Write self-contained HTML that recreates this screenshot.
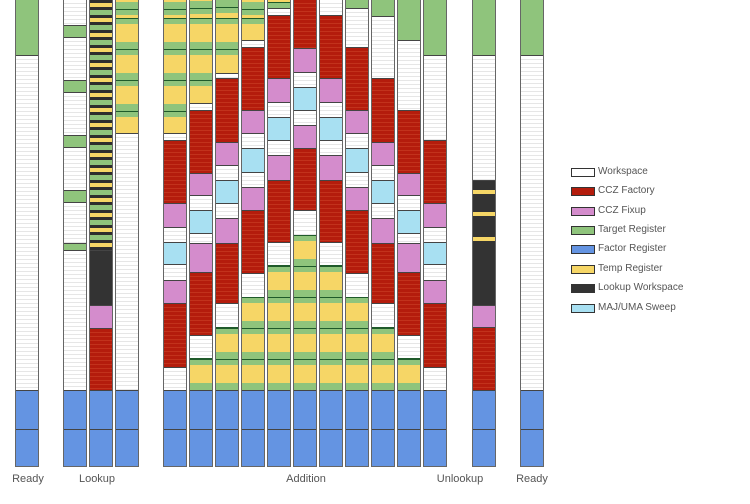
<!DOCTYPE html>
<html><head><meta charset="utf-8"><style>
body{margin:0;width:750px;height:504px;background:#fff;position:relative;overflow:hidden;font-family:"Liberation Sans",sans-serif}
.c{position:absolute;top:0;height:467px;box-sizing:border-box;border:1.5px solid #666;border-top:none;overflow:hidden}
.s{position:absolute;left:0;right:0;box-sizing:border-box;border-top:1px solid #444}
.lbl{position:absolute;top:473px;font-size:11px;color:#555;transform:translateX(-50%)}
.lg{position:absolute;left:571px;width:24px;height:9px;box-sizing:border-box;border:1.5px solid #333}
.lt{position:absolute;left:598px;font-size:10px;color:#555;line-height:12px}
</style></head><body>
<div id="root"></div>
<div class="lbl" style="left:28px">Ready</div>
<div class="lbl" style="left:97px">Lookup</div>
<div class="lbl" style="left:306px">Addition</div>
<div class="lbl" style="left:460px">Unlookup</div>
<div class="lbl" style="left:532px">Ready</div>
<div class="lg" style="top:168px;background:#fff"></div><div class="lt" style="top:166px">Workspace</div>
<div class="lg" style="top:187px;background:#b41c0c"></div><div class="lt" style="top:185px">CCZ Factory</div>
<div class="lg" style="top:207px;background:#d48ccc"></div><div class="lt" style="top:205px">CCZ Fixup</div>
<div class="lg" style="top:226px;background:#8fc47c"></div><div class="lt" style="top:224px">Target Register</div>
<div class="lg" style="top:245px;background:#6494e2"></div><div class="lt" style="top:243px">Factor Register</div>
<div class="lg" style="top:265px;background:#f6d666"></div><div class="lt" style="top:263px">Temp Register</div>
<div class="lg" style="top:284px;background:#333"></div><div class="lt" style="top:282px">Lookup Workspace</div>
<div class="lg" style="top:304px;background:#a8e0f2"></div><div class="lt" style="top:302px">MAJ/UMA Sweep</div>
<script>
var BG={
w:"repeating-linear-gradient(#fff 0 3px,#e6e6e6 3px 4px)",
r:"repeating-linear-gradient(#b41c0c 0 3px,#c2321c 3px 4px)",
p:"#d48ccc",c:"#a8e0f2",g:"#8fc47c",b:"#6494e2",d:"#333",
};
function yg(top){var o=(390-top)%31;return "background:repeating-linear-gradient(#1f5a2a 0 1px,#8fc47c 1px 6px,#f6d666 6px 24px,#8fc47c 24px 31px);background-position:0 "+o+"px";}
var cols=[
[15,[[0,55,'g'],[55,390,'w']]],
[63,[[0,25,'w'],[25,37,'g'],[37,80,'w'],[80,92,'g'],[92,135,'w'],[135,147,'g'],[147,190,'w'],[190,202,'g'],[202,243,'w'],[243,250,'g'],[250,390,'w']]],
[89,[[0,250,'L'],[250,305,'d'],[305,328,'p'],[328,390,'r']]],
[115,[[0,133,'y'],[133,390,'w']]],
[163,[[0,133,'y'],[133,140,'w'],[140,203,'r'],[203,227,'p'],[227,242,'w'],[242,264,'c'],[264,280,'w'],[280,303,'p'],[303,367,'r'],[367,390,'w']]],
[189,[[0,103,'y'],[103,110,'w'],[110,173,'r'],[173,195,'p'],[195,210,'w'],[210,233,'c'],[233,243,'w'],[243,272,'p'],[272,335,'r'],[335,358,'w'],[358,390,'y']]],
[215,[[0,73,'y'],[73,78,'w'],[78,142,'r'],[142,165,'p'],[165,180,'w'],[180,203,'c'],[203,218,'w'],[218,243,'p'],[243,303,'r'],[303,327,'w'],[327,390,'y']]],
[241,[[0,40,'y'],[40,47,'w'],[47,110,'r'],[110,133,'p'],[133,148,'w'],[148,172,'c'],[172,187,'w'],[187,210,'p'],[210,273,'r'],[273,297,'w'],[297,390,'y']]],
[267,[[0,8,'y'],[8,15,'w'],[15,78,'r'],[78,102,'p'],[102,117,'w'],[117,140,'c'],[140,155,'w'],[155,180,'p'],[180,242,'r'],[242,265,'w'],[265,390,'y']]],
[293,[[0,48,'r'],[48,72,'p'],[72,87,'w'],[87,110,'c'],[110,125,'w'],[125,148,'p'],[148,210,'r'],[210,235,'w'],[235,390,'y']]],
[319,[[0,15,'w'],[15,78,'r'],[78,102,'p'],[102,117,'w'],[117,140,'c'],[140,155,'w'],[155,180,'p'],[180,242,'r'],[242,265,'w'],[265,390,'y']]],
[345,[[0,8,'g'],[8,47,'w'],[47,110,'r'],[110,133,'p'],[133,148,'w'],[148,172,'c'],[172,187,'w'],[187,210,'p'],[210,273,'r'],[273,297,'w'],[297,390,'y']]],
[371,[[0,16,'g'],[16,78,'w'],[78,142,'r'],[142,165,'p'],[165,180,'w'],[180,203,'c'],[203,218,'w'],[218,243,'p'],[243,303,'r'],[303,327,'w'],[327,390,'y']]],
[397,[[0,40,'g'],[40,110,'w'],[110,173,'r'],[173,195,'p'],[195,210,'w'],[210,233,'c'],[233,243,'w'],[243,272,'p'],[272,335,'r'],[335,358,'w'],[358,390,'y']]],
[423,[[0,55,'g'],[55,140,'w'],[140,203,'r'],[203,227,'p'],[227,242,'w'],[242,264,'c'],[264,280,'w'],[280,303,'p'],[303,367,'r'],[367,390,'w']]],
[472,[[0,55,'g'],[55,180,'w'],[180,305,'U'],[305,327,'p'],[327,390,'r']]],
[520,[[0,55,'g'],[55,390,'w']]]
];
var h='';
cols.forEach(function(col){
 var x=col[0];h+='<div class="c" style="left:'+x+'px;width:24px">';
 col[1].concat([[390,429,'b'],[429,467,'b']]).forEach(function(s){
  var st='top:'+s[0]+'px;height:'+(s[1]-s[0])+'px;';
  if(s[2]=='y')st+=yg(s[0])+';border-top:none;';
  else if(s[2]=='L')st+='background:repeating-linear-gradient(#2e2e2e 0 3px,#f6d666 3px 7px,#2e2e2e 7px 10px,#8fc47c 10px 15px);border-top:none;';
  else if(s[2]=='U')st+='background:linear-gradient(#333 0 9px,#f6d666 9px 13px,#333 13px 31px,#f6d666 31px 35px,#333 35px 56px,#f6d666 56px 60px,#333 60px);';
  else st+='background:'+BG[s[2]]+';';
  if(s[0]==0)st+='border-top:none;';
  h+='<div class="s" style="'+st+'"></div>';
 });
 h+='</div>';
});
document.getElementById('root').innerHTML=h;
</script>
</body></html>
